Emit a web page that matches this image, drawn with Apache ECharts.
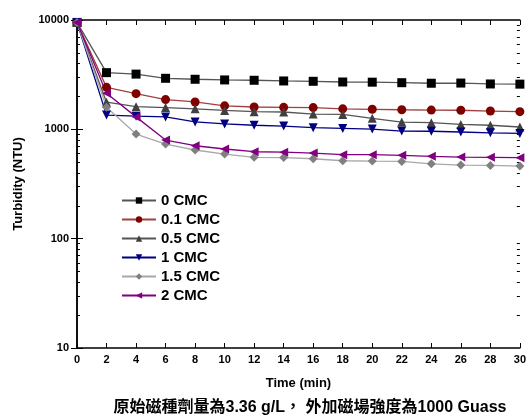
<!DOCTYPE html>
<html>
<head>
<meta charset="utf-8">
<script src="https://cdn.jsdelivr.net/npm/echarts@6/dist/echarts.min.js"></script>
<style>
  html, body { margin: 0; padding: 0; background: #fff; }
  #main { width: 529px; height: 416px; }
</style>
</head>
<body>
<div id="main"></div>
<script>
// time (min)
var times = [0, 2, 4, 6, 8, 10, 12, 14, 16, 18, 20, 22, 24, 26, 28, 30];

// turbidity (NTU)
var cmc0 = [9500, 3300, 3200, 2930, 2870, 2830, 2810, 2770, 2750, 2710, 2700, 2670, 2640, 2650, 2600, 2590];
var cmc01 = [9500, 2420, 2120, 1870, 1780, 1640, 1600, 1590, 1580, 1540, 1525, 1510, 1500, 1495, 1470, 1450];
var cmc05 = [9500, 1770, 1610, 1580, 1540, 1490, 1450, 1440, 1380, 1370, 1260, 1165, 1150, 1110, 1090, 1050];
var cmc1 = [9500, 1350, 1320, 1300, 1170, 1120, 1090, 1070, 1035, 1020, 1005, 965, 960, 945, 930, 918];
var cmc15 = [9500, 1590, 906, 734, 647, 594, 555, 552, 538, 516, 512, 509, 484, 471, 468, 461];
var cmc2 = [9500, 2135, 1300, 798, 708, 661, 624, 618, 607, 586, 586, 578, 566, 558, 555, 550];

var seriesNames = ['0 CMC', '0.1 CMC', '0.5 CMC', '1 CMC', '1.5 CMC', '2 CMC'];

// minor ticks of the log axis: 2..9 in each decade
var minorTicks = [20, 30, 40, 50, 60, 70, 80, 90, 200, 300, 400, 500, 600, 700, 800, 900,
    2000, 3000, 4000, 5000, 6000, 7000, 8000, 9000];

var chart = echarts.init(document.getElementById('main'));

function pairs(vals) {
    return vals.map(function (v, i) { return [times[i], v]; });
}

function line(name, vals, symbol, markColor, lineColor, rotate) {
    return {
        name: name,
        type: 'line',
        data: pairs(vals),
        symbol: symbol,
        symbolSize: 9,
        symbolRotate: rotate || 0,
        itemStyle: { color: markColor },
        lineStyle: { color: lineColor, width: 1.3 },
        emphasis: { disabled: true }
    };
}

var labelFont = { fontFamily: 'Liberation Sans, Arial', fontWeight: 'bold', fontSize: 11, color: '#000' };

function minorAxis(pos) {
    return {
        type: 'log',
        logBase: 10,
        min: 10,
        max: 10000,
        position: pos,
        offset: 0,
        axisLine: { show: false },
        axisTick: { inside: true, length: 3, customValues: minorTicks, lineStyle: { color: '#000' } },
        axisLabel: { show: false },
        splitLine: { show: false }
    };
}

chart.setOption({
    animation: false,
    backgroundColor: '#fff',
    textStyle: { fontFamily: 'Liberation Sans, Arial' },
    title: {
        text: '原始磁種劑量為3.36 g/L， 外加磁場強度為1000 Guass',
        left: 305,
        textAlign: 'center',
        top: 395,
        textStyle: {
            fontFamily: 'Liberation Sans, Noto Sans CJK TC',
            fontWeight: 'bold',
            fontSize: 16,
            color: '#000'
        }
    },
    grid: { left: 77, right: 8, top: 20, bottom: 68 },
    legend: {
        orient: 'vertical',
        left: 116,
        top: 188,
        itemWidth: 34,
        itemHeight: 8,
        itemGap: 4,
        data: seriesNames,
        textStyle: { fontFamily: 'Liberation Sans, Arial', fontWeight: 'bold', fontSize: 15, color: '#000' }
    },
    xAxis: [{
        type: 'value',
        min: 0,
        max: 30,
        interval: 2,
        name: 'Time (min)',
        nameLocation: 'middle',
        nameGap: 29,
        nameTextStyle: { fontFamily: 'Liberation Sans, Arial', fontWeight: 'bold', fontSize: 13, color: '#000' },
        axisLine: { lineStyle: { color: '#000', width: 1.5 } },
        axisTick: { inside: true, length: 5, lineStyle: { color: '#000' } },
        axisLabel: Object.assign({ margin: 6 }, labelFont),
        splitLine: { show: false }
    }, {
        type: 'value',
        position: 'top',
        min: 0,
        max: 30,
        interval: 2,
        axisLine: { lineStyle: { color: '#000', width: 1.5 } },
        axisTick: { inside: true, length: 5, lineStyle: { color: '#000' } },
        axisLabel: { show: false },
        splitLine: { show: false }
    }],
    yAxis: [{
        type: 'log',
        logBase: 10,
        min: 10,
        max: 10000,
        name: 'Turbidity (NTU)',
        nameLocation: 'middle',
        nameGap: 52,
        nameTextStyle: { fontFamily: 'Liberation Sans, Arial', fontWeight: 'bold', fontSize: 13, color: '#000' },
        axisLine: { lineStyle: { color: '#000', width: 1.5 } },
        axisTick: { inside: true, length: 6, lineStyle: { color: '#000' } },
        axisLabel: Object.assign({ margin: 8, formatter: function (v) { return String(v); } }, labelFont),
        splitLine: { show: false }
    }, {
        type: 'log',
        logBase: 10,
        min: 10,
        max: 10000,
        position: 'right',
        axisLine: { lineStyle: { color: '#000', width: 1.5 } },
        axisTick: { inside: true, length: 6, lineStyle: { color: '#000' } },
        axisLabel: { show: false },
        splitLine: { show: false }
    }, minorAxis('left'), minorAxis('right')],
    series: [
        line('0 CMC', cmc0, 'rect', '#000000', '#555555'),
        line('0.1 CMC', cmc01, 'circle', '#800000', '#a04040'),
        line('0.5 CMC', cmc05, 'triangle', '#404040', '#555555'),
        line('1 CMC', cmc1, 'triangle', '#000080', '#000080', 180),
        line('1.5 CMC', cmc15, 'diamond', '#808080', '#a8a8a8'),
        line('2 CMC', cmc2, 'triangle', '#800080', '#800080', 90)
    ]
});
</script>
</body>
</html>
